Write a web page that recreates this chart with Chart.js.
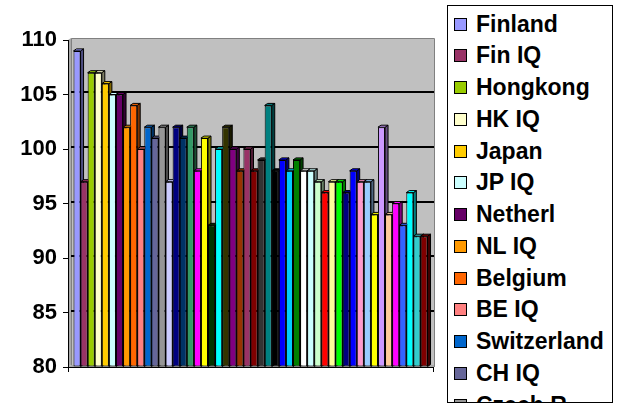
<!DOCTYPE html>
<html>
<head>
<meta charset="utf-8">
<script src="https://cdn.jsdelivr.net/npm/chart.js@4.4.1/dist/chart.umd.min.js"></script>
<style>
  html, body { margin: 0; padding: 0; background: #fff; }
  #wrap { position: relative; width: 623px; height: 408px; overflow: hidden; }
  #c { position: absolute; left: 0; top: 0; }
  #legend {
    position: absolute; left: 447px; top: 5px; width: 166px; height: 398px;
    box-sizing: border-box; border: 1px solid #000; background: #fff; overflow: hidden;
    font-family: Arial, "Liberation Sans", sans-serif; font-weight: bold; font-size: 23px; color: #000;
  }
  .item { position: absolute; left: 0; height: 32px; display: flex; align-items: center; white-space: nowrap; }
  .sw { width: 13px; height: 13px; box-sizing: border-box; border: 1px solid #000; margin-left: 6px; margin-right: 9px; flex: none; }
</style>
</head>
<body>
<div id="wrap">
  <canvas id="c" width="623" height="408"></canvas>
  <div id="legend"></div>
</div>
<script>
const categories = [''];
const seriesNames = [
  'Finland','Fin IQ','Hongkong','HK IQ','Japan','JP IQ','Netherl','NL IQ','Belgium','BE IQ',
  'Switzerland','CH IQ','Czech R','Series 14','Series 15','Series 16','Series 17','Series 18','Series 19','Series 20',
  'Series 21','Series 22','Series 23','Series 24','Series 25','Series 26','Series 27','Series 28','Series 29','Series 30',
  'Series 31','Series 32','Series 33','Series 34','Series 35','Series 36','Series 37','Series 38','Series 39','Series 40',
  'Series 41','Series 42','Series 43','Series 44','Series 45','Series 46','Series 47','Series 48','Series 49','Series 50'
];
const seriesValues = [
  109, 97, 107, 107, 106, 105, 105, 102, 104, 100,
  102, 101, 102, 97, 102, 101, 102, 98, 101, 93,
  100, 102, 100, 98, 100, 98, 99, 104, 98, 99,
  98, 99, 98, 98, 97, 96, 97, 97, 96, 98,
  97, 97, 94, 102, 94, 95, 93, 96, 92, 92
];
const seriesColors = [
  '#9999FF','#993366','#99CC00','#FFFFCC','#FFCC00','#CCFFFF','#660066','#FF9900','#FF6600','#FF8080',
  '#0066CC','#666699','#969696','#CCCCFF','#000080','#003366','#339966','#FF00FF','#FFFF00','#003300',
  '#00FFFF','#333300','#800080','#993300','#993366','#800000','#333333','#008080','#000000','#0000FF',
  '#00CCFF','#008000','#FFFFFF','#CCFFFF','#CCFFCC','#FF0000','#FFFF99','#00FF00','#000080','#0000FF',
  '#FF99CC','#99CCFF','#FFFF00','#CC99FF','#FFCC99','#FF00FF','#3366FF','#00FFFF','#33CCCC','#800000'
];
const yTickLabels = ['80','85','90','95','100','105','110'];
const yMin = 80, yMax = 110, yStep = 5;

function darken(hex, f) {
  const n = parseInt(hex.slice(1), 16);
  const r = Math.round(((n >> 16) & 255) * f), g = Math.round(((n >> 8) & 255) * f), b = Math.round((n & 255) * f);
  return 'rgb(' + r + ',' + g + ',' + b + ')';
}

const DX = 3, DY = 2;

function barBoxes(chart) {
  const out = [];
  chart.data.datasets.forEach((ds, i) => {
    const meta = chart.getDatasetMeta(i);
    meta.data.forEach(el => {
      const p = el.getProps(['x', 'y', 'base', 'width'], true);
      out.push({ l: p.x - p.width / 2, r: p.x + p.width / 2, t: p.y, b: p.base, color: seriesColors[i] });
    });
  });
  out.sort((a, b) => a.l - b.l);
  return out;
}

const wallPlugin = {
  id: 'wall',
  beforeDraw(chart) {
    const { ctx, chartArea: a, scales } = chart;
    ctx.save();
    ctx.fillStyle = '#C0C0C0';
    ctx.fillRect(a.left + DX, a.top - DY, a.right - a.left - DX + 1, a.bottom - a.top);
    ctx.fillStyle = '#A8A8A8';
    ctx.beginPath();
    ctx.moveTo(a.left, a.top); ctx.lineTo(a.left + DX, a.top - DY);
    ctx.lineTo(a.left + DX, a.bottom - DY); ctx.lineTo(a.left, a.bottom); ctx.closePath(); ctx.fill();
    ctx.beginPath();
    ctx.moveTo(a.left, a.bottom); ctx.lineTo(a.left + DX, a.bottom - DY);
    ctx.lineTo(a.right + 1, a.bottom - DY); ctx.lineTo(a.right + 1, a.bottom); ctx.closePath(); ctx.fill();
    ctx.strokeStyle = '#808080'; ctx.lineWidth = 1;
    ctx.beginPath();
    ctx.moveTo(a.left + DX + 0.5, a.bottom - DY); ctx.lineTo(a.left + DX + 0.5, a.top - DY + 0.5);
    ctx.lineTo(a.right + 1.5, a.top - DY + 0.5); ctx.lineTo(a.right + 1.5, a.bottom);
    ctx.stroke();
    ctx.strokeStyle = '#000'; ctx.lineWidth = 2;
    for (let v = yMin + yStep; v < yMax; v += yStep) {
      const y = Math.round(scales.y.getPixelForValue(v)) - DY;
      ctx.beginPath(); ctx.moveTo(a.left + DX, y); ctx.lineTo(a.right + 1, y); ctx.stroke();
    }
    ctx.restore();
  },
  beforeDatasetsDraw(chart) {
    const { ctx } = chart;
    ctx.save();
    ctx.strokeStyle = '#000'; ctx.lineWidth = 1;
    barBoxes(chart).forEach(bx => {
      ctx.fillStyle = darken(bx.color, 0.5);
      ctx.beginPath();
      ctx.moveTo(bx.r, bx.t); ctx.lineTo(bx.r + DX, bx.t - DY); ctx.lineTo(bx.r + DX, bx.b - DY); ctx.lineTo(bx.r, bx.b); ctx.closePath();
      ctx.fill(); ctx.stroke();
    });
    ctx.restore();
  },
  afterDatasetsDraw(chart) {
    const { ctx } = chart;
    const boxes = barBoxes(chart);
    ctx.save();
    ctx.strokeStyle = '#000'; ctx.lineWidth = 1;
    boxes.forEach((bx, k) => {
      const nx = boxes[k + 1];
      ctx.save();
      if (nx && nx.t < bx.t - 1) {
        ctx.beginPath(); ctx.rect(0, 0, nx.l + 0.5, chart.height); ctx.clip();
      }
      ctx.fillStyle = bx.color;
      ctx.beginPath();
      ctx.moveTo(bx.l, bx.t); ctx.lineTo(bx.l + DX, bx.t - DY); ctx.lineTo(bx.r + DX, bx.t - DY); ctx.lineTo(bx.r, bx.t); ctx.closePath();
      ctx.fill(); ctx.stroke();
      ctx.restore();
    });
    ctx.restore();
  }
};

const datasets = seriesNames.map((name, i) => ({
  label: name,
  data: [seriesValues[i]],
  base: yMin,
  backgroundColor: seriesColors[i],
  borderColor: '#000',
  borderWidth: 1,
  borderSkipped: false,
  barPercentage: 1,
  categoryPercentage: 0.97
}));

const FONT = 'Arial, "Liberation Sans", sans-serif';

new Chart(document.getElementById('c'), {
  type: 'bar',
  data: { labels: categories, datasets },
  options: {
    responsive: false,
    animation: false,
    events: [],
    layout: { padding: { top: 40, right: 190, left: 0, bottom: 0 } },
    plugins: { legend: { display: false }, tooltip: { enabled: false }, title: { display: false } },
    scales: {
      x: {
        type: 'category',
        offset: true,
        grid: { display: true, drawOnChartArea: false, offset: true, tickLength: 5, color: '#000', lineWidth: 1 },
        border: { display: true, color: '#000', width: 1 },
        ticks: { display: false },
        afterFit(scale) { scale.height = 41; }
      },
      y: {
        min: yMin, max: yMax,
        grid: { display: true, drawOnChartArea: false, tickLength: 5, color: '#000', lineWidth: 1 },
        border: { display: true, color: '#000', width: 1 },
        ticks: {
          stepSize: yStep, padding: 6, color: '#000',
          font: { family: FONT, size: 22, weight: 'bold' },
          callback: (v, i) => yTickLabels[i]
        },
        afterFit(scale) { scale.width = 68; }
      }
    }
  },
  plugins: [wallPlugin]
});

const legend = document.getElementById('legend');
seriesNames.forEach((name, i) => {
  const it = document.createElement('div');
  it.className = 'item';
  it.style.top = (2 + i * 31.75) + 'px';
  const sw = document.createElement('span');
  sw.className = 'sw';
  sw.style.background = seriesColors[i];
  const tx = document.createElement('span');
  tx.textContent = name;
  it.appendChild(sw); it.appendChild(tx);
  legend.appendChild(it);
});
</script>
</body>
</html>
